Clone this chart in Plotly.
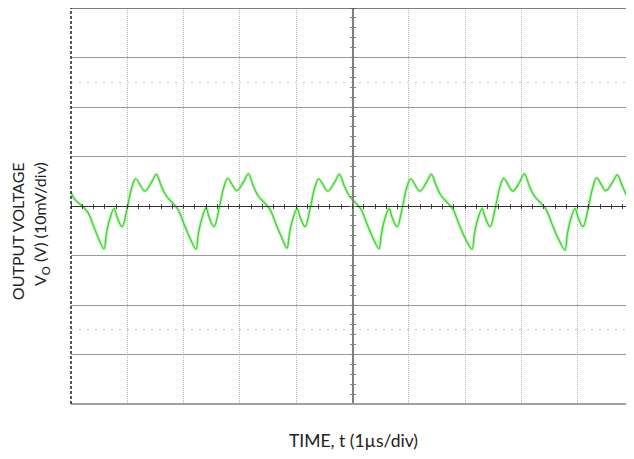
import plotly.graph_objects as go

# Time in divisions (1 µs/div), voltage in divisions (10 mV/div)
time_div = [
    0.000, 0.066, 0.183, 0.302, 0.421, 0.586,
    0.627, 0.687, 0.764, 0.822, 0.906, 1.000, 1.071, 1.149, 1.309, 1.426, 1.515, 1.604, 1.693, 1.812, 1.900, 2.020, 2.106, 2.220,
    2.261, 2.321, 2.398, 2.456, 2.540, 2.634, 2.705, 2.783, 2.943, 3.060, 3.149, 3.238, 3.327, 3.446, 3.534, 3.654, 3.740, 3.837,
    3.878, 3.938, 4.015, 4.073, 4.157, 4.251, 4.322, 4.400, 4.560, 4.677, 4.766, 4.855, 4.944, 5.063, 5.151, 5.271, 5.357, 5.471,
    5.512, 5.572, 5.649, 5.707, 5.791, 5.885, 5.956, 6.034, 6.194, 6.311, 6.400, 6.489, 6.578, 6.697, 6.785, 6.905, 6.991, 7.123,
    7.164, 7.224, 7.301, 7.359, 7.443, 7.537, 7.608, 7.686, 7.846, 7.963, 8.052, 8.141, 8.230, 8.349, 8.437, 8.557, 8.643, 8.774,
    8.815, 8.875, 8.952, 9.010, 9.094, 9.188, 9.259, 9.337, 9.497, 9.614, 9.703, 9.792, 9.881, 10.000,
]
vout_div = [
    0.27, 0.135, 0.014, -0.135, -0.464, -0.861,
    -0.571, -0.268, -0.054, -0.236, -0.417, -0.034, 0.337, 0.550, 0.302, 0.470, 0.639, 0.403, 0.202, 0.054, -0.067, -0.403, -0.63, -0.873,
    -0.571, -0.268, -0.040, -0.236, -0.417, -0.034, 0.337, 0.560, 0.312, 0.480, 0.650, 0.403, 0.202, 0.054, -0.067, -0.403, -0.63, -0.850,
    -0.571, -0.268, -0.054, -0.236, -0.417, -0.034, 0.337, 0.550, 0.302, 0.470, 0.639, 0.403, 0.202, 0.054, -0.067, -0.403, -0.63, -0.861,
    -0.571, -0.268, -0.054, -0.236, -0.417, -0.034, 0.337, 0.550, 0.302, 0.470, 0.639, 0.403, 0.202, 0.054, -0.067, -0.403, -0.63, -0.873,
    -0.571, -0.268, -0.054, -0.236, -0.417, -0.034, 0.337, 0.560, 0.302, 0.470, 0.650, 0.403, 0.202, 0.054, -0.067, -0.403, -0.63, -0.890,
    -0.571, -0.268, -0.054, -0.236, -0.417, -0.034, 0.337, 0.570, 0.312, 0.470, 0.630, 0.403, 0.202, 0.080,
]

x_title = "TIME, t (1\u00b5s/div)"
y_title_1 = "OUTPUT VOLTAGE"
y_title_2 = "V<sub>O</sub> (V) (10mV/div)"

FONT = "Lato, 'Open Sans', sans-serif"

fig = go.Figure()
fig.add_trace(go.Scatter(
    x=time_div, y=vout_div, mode="lines",
    line=dict(color="#9ef08e", width=3.2, shape="spline", smoothing=1.0),
    hoverinfo="skip", showlegend=False, opacity=0.6,
))
fig.add_trace(go.Scatter(
    x=time_div, y=vout_div, mode="lines",
    line=dict(color="#3ed434", width=1.3, shape="spline", smoothing=1.0),
    hoverinfo="skip", showlegend=False,
))

common = dict(showticklabels=False, zeroline=False, automargin=False, fixedrange=True)

# the page body adds an 8px offset, margins compensate for it
fig.update_layout(
    width=634, height=459,
    margin=dict(l=63, r=8, t=0, b=63, autoexpand=False),
    paper_bgcolor="white", plot_bgcolor="white",
    font=dict(family=FONT, size=16, color="#222"),
    showlegend=False,
    xaxis=dict(range=[0, 10], dtick=1, tick0=0, showgrid=True, gridcolor="#b8b8b8",
               griddash="1px,1px", gridwidth=1, ticks="", showline=False, **common),
    yaxis=dict(range=[-4, 4], dtick=1, tick0=0, showgrid=True, gridcolor="#9a9a9a",
               gridwidth=1, ticks="", showline=False, **common),
    # centre horizontal axis with fine ticks
    xaxis2=dict(overlaying="x", matches="x", anchor="free", position=0.5,
                showline=True, linecolor="#333333", linewidth=1,
                ticks="outside", tick0=0, dtick=0.2, ticklen=2, tickcolor="#444444",
                showgrid=False, **common),
    xaxis3=dict(overlaying="x", matches="x", anchor="free", position=0.5, side="top",
                showline=False, ticks="outside", tick0=0, dtick=0.2, ticklen=2,
                tickcolor="#444444", showgrid=False, **common),
    # centre vertical axis with fine ticks
    yaxis2=dict(overlaying="y", matches="y", anchor="free", position=0.5,
                showline=True, linecolor="#808080", linewidth=1.5,
                ticks="outside", tick0=0, dtick=0.2, ticklen=2, tickcolor="#808080",
                showgrid=False, **common),
    yaxis3=dict(overlaying="y", matches="y", anchor="free", position=0.5, side="right",
                showline=False, ticks="outside", tick0=0, dtick=0.2, ticklen=2,
                tickcolor="#808080", showgrid=False, **common),
    # dotted quarter lines
    yaxis4=dict(overlaying="y", matches="y", tickvals=[-2.5, 2.5], showgrid=True,
                gridcolor="#c8c8c8", griddash="2px,6px", gridwidth=1,
                ticks="", showline=False, **common),
)

# invisible traces to activate the overlay axes
for xa, ya in [("x2", "y"), ("x3", "y"), ("x", "y2"), ("x", "y3"), ("x", "y4")]:
    fig.add_trace(go.Scatter(x=[None], y=[None], xaxis=xa, yaxis=ya,
                             showlegend=False, hoverinfo="skip"))

# frame
fig.add_shape(type="line", xref="paper", yref="paper", x0=0, x1=1, y0=1, y1=1,
              line=dict(color="#555555", width=1.5))
fig.add_shape(type="line", xref="paper", yref="paper", x0=0, x1=1, y0=0, y1=0,
              line=dict(color="#a0a0a0", width=2))
fig.add_shape(type="line", xref="paper", yref="paper", x0=0, x1=0, y0=0, y1=1,
              line=dict(color="#222222", width=1.5, dash="3px,2px"))

# titles
fig.add_annotation(text=x_title, xref="paper", yref="paper", x=0.502, y=-0.091,
                   xanchor="center", yanchor="middle", showarrow=False,
                   font=dict(family=FONT, size=17.5, color="#222"))
fig.add_annotation(text=y_title_1, xref="paper", yref="paper", x=-0.0945, y=0.436,
                   xanchor="center", yanchor="middle", textangle=-90, showarrow=False,
                   font=dict(family=FONT, size=16, color="#222"))
fig.add_annotation(text=y_title_2, xref="paper", yref="paper", x=-0.053, y=0.455,
                   xanchor="center", yanchor="middle", textangle=-90, showarrow=False,
                   font=dict(family=FONT, size=16, color="#222"))

fig.write_html("out.html")
